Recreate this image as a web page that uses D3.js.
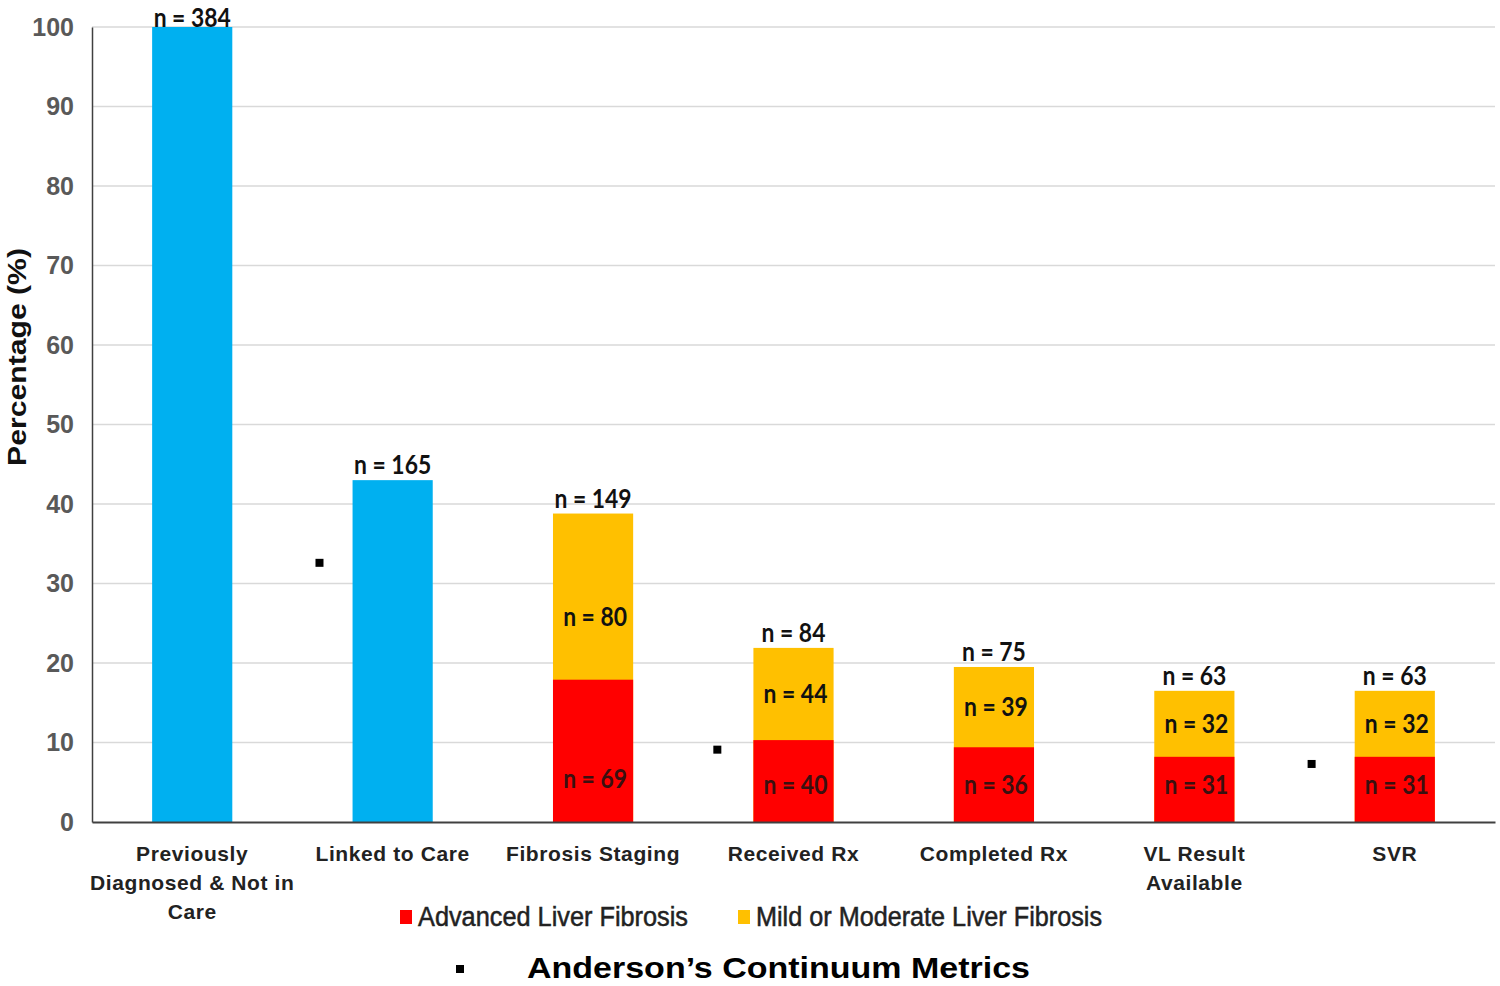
<!DOCTYPE html>
<html><head><meta charset="utf-8">
<script src="https://cdn.jsdelivr.net/npm/d3@7"></script>
<style>body{margin:0;background:#fff}svg{display:block}</style>
</head><body><svg id="c" width="1500" height="986"></svg>
<script>
const categories = ["Previously\nDiagnosed & Not in\nCare","Linked to Care","Fibrosis Staging","Received Rx","Completed Rx","VL Result\nAvailable","SVR"];
const totalValues = [100, 43.0, 38.8, 21.9, 19.5, 16.5, 16.5];
const advancedValues = [null, null, 17.9, 10.3, 9.4, 8.2, 8.2];
const totalLabels = ["n = 384","n = 165","n = 149","n = 84","n = 75","n = 63","n = 63"];
const advancedLabels = [null,null,"n = 69","n = 40","n = 36","n = 31","n = 31"];
const mildLabels = [null,null,"n = 80","n = 44","n = 39","n = 32","n = 32"];
const yTicks = [0,10,20,30,40,50,60,70,80,90,100];
const seriesNames = ["Advanced Liver Fibrosis","Mild or Moderate Liver Fibrosis"];
// stray marker squares: [category index, offset from band centre (in steps), value]
const strayMarkers = [[1,-0.365,32.6],[3,-0.38,9.1],[6,-0.415,7.3]];

const svg = d3.select("#c");
const m = {l:92, r:1495, t:27, b:822};
const x = d3.scaleBand().domain(d3.range(categories.length)).range([m.l, m.r]).paddingInner(0.6).paddingOuter(0.3);
const y = d3.scaleLinear().domain([0,100]).range([m.b, m.t]);
const cx = i => x(i) + x.bandwidth()/2;
const cBlue="#00B0F0", cRed="#FF0000", cYel="#FFC000";

// grid
svg.append("g").selectAll("line").data(yTicks.filter(d=>d>0)).join("line")
  .attr("x1",m.l).attr("x2",m.r).attr("y1",d=>y(d)).attr("y2",d=>y(d))
  .attr("stroke","#d9d9d9").attr("stroke-width",1.5);

// y axis
const yAxis = d3.axisLeft(y).tickValues(yTicks).tickSize(0).tickPadding(18);
const gy = svg.append("g").attr("transform",`translate(${m.l},0)`).call(yAxis);
gy.select(".domain").attr("stroke","#404040").attr("stroke-width",1.5);
gy.selectAll("text").attr("font-family","'Liberation Sans',Arial,sans-serif")
  .attr("font-size",25).attr("font-weight","bold").attr("fill","#595959");

// bars
const full = totalValues.map((v,i)=>({i,v,adv:advancedValues[i]}));
svg.append("g").selectAll("rect.main").data(full).join("rect")
  .attr("x",d=>x(d.i)).attr("width",x.bandwidth())
  .attr("y",d=>y(d.v)).attr("height",d=>y(0)-y(d.v))
  .attr("fill",d=>d.adv==null?cBlue:cYel);
svg.append("g").selectAll("rect.adv").data(full.filter(d=>d.adv!=null)).join("rect")
  .attr("x",d=>x(d.i)).attr("width",x.bandwidth())
  .attr("y",d=>y(d.adv)).attr("height",d=>y(0)-y(d.adv))
  .attr("fill",cRed);

// x axis
const xAxis = d3.axisBottom(x).tickSize(0).tickFormat("");
const gx = svg.append("g").attr("transform",`translate(0,${m.b})`).call(xAxis);
gx.select(".domain").attr("stroke","#404040").attr("stroke-width",2);

// category labels
const labFont = "'Liberation Sans',Arial,sans-serif";
categories.forEach((c,i)=>{
  const t = svg.append("text").attr("text-anchor","middle").attr("font-family",labFont)
    .attr("font-size",21).attr("font-weight","bold").attr("fill","#222").attr("letter-spacing","0.6");
  c.split("\n").forEach((ln,k)=>{
    t.append("tspan").attr("x",cx(i)).attr("y",861+k*29).text(ln);
  });
});

// data labels (condensed to mimic the narrow original face)
const nFont = "Lato,'Open Sans',sans-serif";
function nLabel(sel){
  sel.attr("text-anchor","middle").attr("font-family",nFont).attr("font-size",26).attr("font-weight","bold")
    .each(function(){
      const w = this.getComputedTextLength();
      d3.select(this).attr("textLength", w*0.88).attr("lengthAdjust","spacingAndGlyphs");
    });
}
svg.append("g").selectAll("text").data(full).join("text")
  .attr("x",d=>cx(d.i)).attr("y",d=>Math.max(y(d.v)-6,26.5))
  .attr("fill","#111").text(d=>totalLabels[d.i]).call(nLabel);
svg.append("g").selectAll("text").data(full.filter(d=>d.adv!=null)).join("text")
  .attr("x",d=>cx(d.i)+2)
  .attr("y",d=>{const c=(y(d.v)+y(d.adv))/2; return c+9+(d.i===2?20:0);})
  .attr("fill","#111").text(d=>mildLabels[d.i]).call(nLabel);
svg.append("g").selectAll("text").data(full.filter(d=>d.adv!=null)).join("text")
  .attr("x",d=>cx(d.i)+2).attr("y",(d)=>y(0)-28-(d.i===2?6:0))
  .attr("fill","#3a1010").text(d=>advancedLabels[d.i]).call(nLabel);

// stray markers
svg.append("g").selectAll("rect").data(strayMarkers).join("rect")
  .attr("x",d=>cx(d[0])+x.step()*d[1]-4).attr("y",d=>y(d[2])-4)
  .attr("width",8).attr("height",8).attr("fill","#000");

// y title
svg.append("text").attr("transform","translate(26,357) rotate(-90)").attr("text-anchor","middle")
  .attr("font-family",labFont).attr("font-size",26).attr("font-weight","bold").attr("fill","#111")
  .attr("textLength",218).attr("lengthAdjust","spacingAndGlyphs")
  .text("Percentage (%)");

// legend
const leg = [[400,cRed,seriesNames[0],270],[738,cYel,seriesNames[1],346]];
leg.forEach(([lx,col,txt,w])=>{
  svg.append("rect").attr("x",lx).attr("y",910).attr("width",12).attr("height",14).attr("fill",col);
  svg.append("text").attr("x",lx+18).attr("y",926).attr("font-family",labFont).attr("font-size",27)
    .attr("fill","#222").attr("stroke","#222").attr("stroke-width",0.5)
    .attr("textLength",w).attr("lengthAdjust","spacingAndGlyphs").text(txt);
});

// title
svg.append("rect").attr("x",456).attr("y",965).attr("width",8).attr("height",8).attr("fill","#000");
svg.append("text").attr("x",527).attr("y",978).attr("font-family",labFont).attr("font-size",30)
  .attr("font-weight","bold").attr("fill","#000")
  .attr("textLength",503).attr("lengthAdjust","spacingAndGlyphs")
  .text("Anderson\u2019s Continuum Metrics");
</script></body></html>
